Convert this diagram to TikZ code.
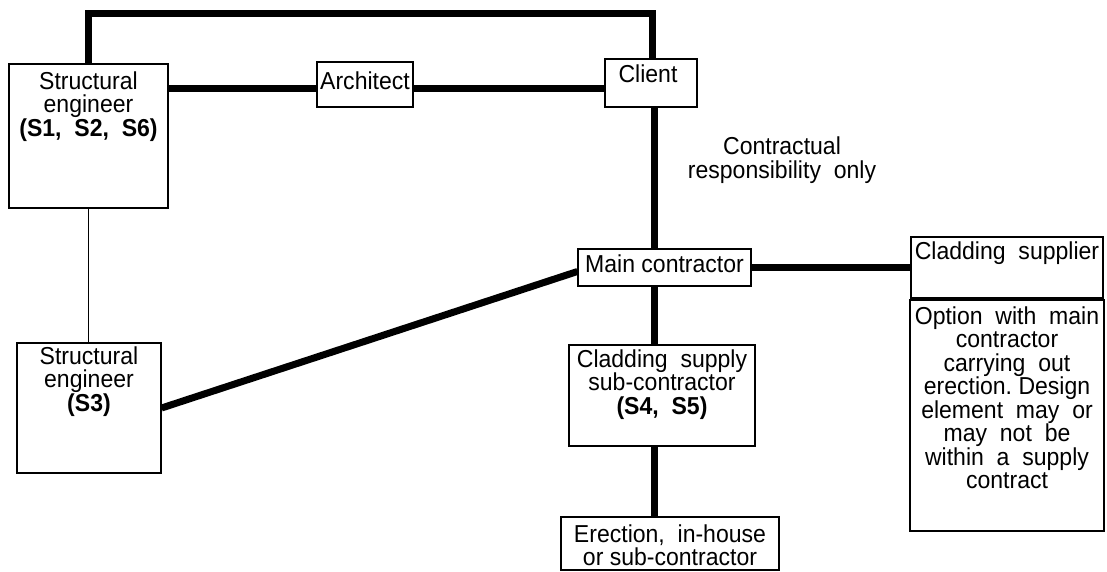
\documentclass[tikz,border=0pt]{standalone}
\usepackage{fontspec}
\setmainfont{Liberation Sans}[FakeStretch=0.94]
\usetikzlibrary{fit}
\begin{document}
\begin{tikzpicture}[x=1pt,y=-1pt,
  box/.style={draw, line width=1.2pt, inner sep=0pt},
  txt/.style={align=center, inner sep=0pt, anchor=north,
    font=\fontsize{24.5}{23.5}\selectfont},
  heavy/.style={line width=7pt, line join=miter},
  light/.style={line width=1pt}]
\useasboundingbox (0,0) rectangle (1107,571);

% boxes
\node[box, fit={(9,64) (168,208)}]     (se1)    {};
\node[box, fit={(317,62) (413,107)}]   (arch)   {};
\node[box, fit={(605,59) (697,107)}]   (client) {};
\node[box, fit={(578,249) (751,286)}]  (main)   {};
\node[box, fit={(569,345) (755,446)}]  (clad)   {};
\node[box, fit={(561,517) (779,570)}]  (erect)  {};
\node[box, fit={(911,237) (1103,298)}] (sup)    {};
\node[box, fit={(910,300) (1104,531)}] (opt)    {};
\node[box, fit={(17,343) (161,473)}]   (se3)    {};

% box texts
\node[txt] (se1t)    at ([yshift=-8pt]se1.north)    {Structural\\engineer\\\textbf{(S1,~~S2,~~S6)}};
\node[txt] (archt)   at ([yshift=-10pt]arch.north)  {Architect};
\node[txt] (clientt) at ([yshift=-6pt,xshift=-3pt]client.north) {Client};
\node[txt] (maint)   at ([yshift=-6pt]main.north)   {Main contractor};
\node[txt] (cladt)   at ([yshift=-5pt]clad.north)   {Cladding~~supply\\sub-contractor\\\textbf{(S4,~~S5)}};
\node[txt] (erectt)  at ([yshift=-8pt]erect.north)  {Erection,~~in-house\\or sub-contractor};
\node[txt] (supt)    at ([yshift=-5pt]sup.north)    {Cladding~~supplier};
\node[txt] (optt)    at ([yshift=-7pt]opt.north)    {Option~~with~~main\\contractor\\carrying~~out\\erection.~Design\\element~~may~~or\\may~~not~~be\\within~~a~~supply\\contract};
\node[txt] (se3t)    at ([yshift=-4pt]se3.north)    {Structural\\engineer\\\textbf{(S3)}};
\node[txt] (note)    at (782,137)                   {Contractual\\responsibility~~only};

% vertical spine of the contract chain
\coordinate (spine) at (654,0);

% connectors
\draw[heavy] (se1.north) -- ++(0,-50) -| ([xshift=1pt]client.north);
\draw[heavy] ([yshift=-4pt]arch.west -| se1.east) -- ([yshift=-4pt]arch.west);
\draw[heavy] ([yshift=-4pt]arch.east) -- ([yshift=-4pt]arch.east -| client.west);
\draw[heavy] (client.south -| spine) -- (main.north -| spine);
\draw[heavy] (main.south -| spine) -- (clad.north -| spine);
\draw[heavy] (clad.south -| spine) -- (erect.north -| spine);
\draw[heavy] (main.east) -- (main.east -| sup.west);
\draw[heavy] (se3.east) -- ([yshift=-4pt]main.west);
\draw[light] (se1.south) -- (se1.south |- se3.north);
\end{tikzpicture}
\end{document}
